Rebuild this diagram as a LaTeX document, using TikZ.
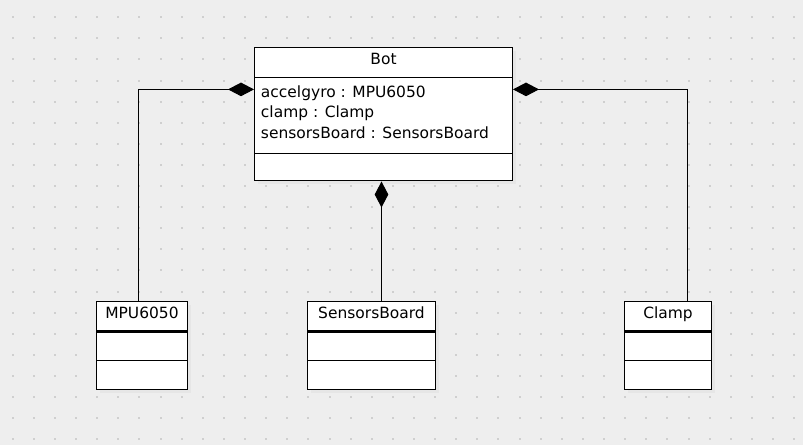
\documentclass[tikz,border=0pt]{standalone}
\usepackage{fontspec}
\setmainfont{DejaVu Sans}
\usetikzlibrary{arrows.meta,calc}
\definecolor{bgc}{HTML}{EEEEEE}
\definecolor{dotc}{HTML}{CFCFCF}
\definecolor{shc}{HTML}{E6E6E6}
\tikzset{
  classbox/.style={draw=black, line width=0.75pt, fill=white, rectangle, inner sep=0pt},
  shadowbox/.style={fill=shc, draw=none, rectangle, inner sep=0pt},
  lbl/.style={inner sep=0pt, font=\fontsize{11.6pt}{14pt}\selectfont, text=black},
  comp/.style={draw=black, line width=0.75pt, -{Diamond[length=19.5pt, width=10.2pt, fill=black]}},
  divider/.style={draw=black, line width=0.75pt},
  thickdiv/.style={draw=black, line width=1.8pt}
}
\begin{document}
\begin{tikzpicture}[x=0.75pt, y=-0.75pt]
\useasboundingbox (0,0) rectangle (803,445);
\fill[bgc] (0,0) rectangle (803,445);
% grid dots
\foreach \i in {0,...,37}{
  \foreach \j in {0,...,20}{
    \fill[dotc] ({12.7+21.12*\i-1},{17.3+21.1*\j-1}) rectangle ++(2,2);
  }
}
% shadows
\node[shadowbox, minimum width=193.5pt, minimum height=99.75pt] at (387,118) {};
\node[shadowbox, minimum width=68.25pt, minimum height=66pt] at (145.5,349) {};
\node[shadowbox, minimum width=96pt, minimum height=66pt] at (375,349) {};
\node[shadowbox, minimum width=65.25pt, minimum height=66pt] at (671.5,349) {};
% class boxes
\node[classbox, minimum width=193.5pt, minimum height=99.75pt] (bot) at (383.5,114.5) {};
\node[classbox, minimum width=68.25pt, minimum height=66pt] (mpu) at (142,345.5) {};
\node[classbox, minimum width=96pt, minimum height=66pt] (sb) at (371.5,345.5) {};
\node[classbox, minimum width=65.25pt, minimum height=66pt] (clamp) at (668,345.5) {};
% dividers
\draw[divider] ($(bot.north west)+(0,30)$) -- ($(bot.north east)+(0,30)$);
\draw[divider] ($(bot.south west)+(0,-28)$) -- ($(bot.south east)+(0,-28)$);
\foreach \b in {mpu,sb,clamp}{
  \draw[thickdiv] ($(\b.north west)+(0,30.5)$) -- ($(\b.north east)+(0,30.5)$);
  \draw[divider] ($(\b.south west)+(0,-29.5)$) -- ($(\b.south east)+(0,-29.5)$);
}
% texts
\node[lbl, anchor=base] (bottitle) at (383.5,65) {Bot};
\node[lbl, anchor=base west] (a1) at (260.7,97.5) {accelgyro : MPU6050};
\node[lbl, anchor=base west] (a2) at (260.7,118) {clamp : Clamp};
\node[lbl, anchor=base west] (a3) at (260.7,139) {sensorsBoard : SensorsBoard};
\node[lbl, anchor=base] (mputitle) at (142,318.3) {MPU6050};
\node[lbl, anchor=base] (sbtitle) at (371.5,318.3) {SensorsBoard};
\node[lbl, anchor=base] (clamptitle) at (668,318.3) {Clamp};
% connectors
\coordinate (mputop) at ($(mpu.north)+(-3.5,0)$);
\coordinate (sbtop) at ($(sb.north)+(10,0)$);
\coordinate (clamptop) at ($(clamp.north)+(19.5,0)$);
\coordinate (botleft) at ($(bot.north west)+(0,41.9)$);
\coordinate (botright) at ($(bot.north east)+(0,41.9)$);
\draw[comp] (mputop) |- (botleft);
\draw[comp] (clamptop) |- (botright);
\draw[comp] (sbtop) -- (sbtop |- bot.south);
\end{tikzpicture}
\end{document}
